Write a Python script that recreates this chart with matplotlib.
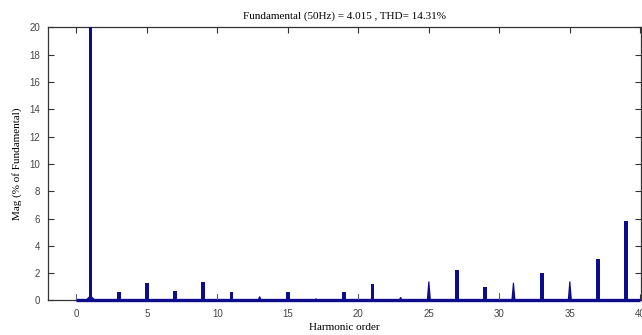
import matplotlib
matplotlib.use("Agg")
import matplotlib.pyplot as plt

# harmonic spectrum (% of fundamental)
orders = [0, 1, 3, 5, 7, 9, 10, 11, 13, 15, 17, 19, 20, 21, 23,
          25, 27, 29, 30, 31, 33, 35, 37, 39]
mags = [0.45, 100.0, 0.65, 1.25, 0.72, 1.33, 0.5, 0.6, 0.3, 0.6, 0.15, 0.63, 0.5, 1.2, 0.25,
        1.4, 2.22, 0.98, 0.52, 1.3, 1.98, 1.4, 3.03, 5.8]
# peak shape: "thick" spike, "thin" line, "cone" tapered spike
shapes = ["thin", "thick", "thick", "thick", "thick", "thick", "thin", "thick", "cone", "thick",
          "cone", "thick", "thin", "thick", "cone",
          "cone", "thick", "thick", "thin", "cone", "thick", "cone", "thick", "thick"]

title = "Fundamental (50Hz) = 4.015 , THD= 14.31%"
xlabel = "Harmonic order"
ylabel = "Mag (% of Fundamental)"
xticks = [0, 5, 10, 15, 20, 25, 30, 35, 40]
yticks = [0, 2, 4, 6, 8, 10, 12, 14, 16, 18, 20]

blue = "#0c0c8c"
serif = ["Liberation Serif", "DejaVu Serif"]

fig = plt.figure(figsize=(6.42, 3.35), dpi=100)
ax = fig.add_axes([0.075, 0.103, 0.9235, 0.815])

# baseline of the spectrum
ax.plot([orders[0], xticks[-1]], [0.05, 0.05], color=blue, lw=2.4, solid_capstyle="butt",
        zorder=3, clip_on=False)

for h, m, s in zip(orders, mags, shapes):
    if s == "thick":
        ax.bar(h, m, width=0.27, color=blue, linewidth=0, zorder=3)
    elif s == "thin":
        ax.bar(h, m, width=0.07, color="#5a5a9a", linewidth=0, zorder=3)
    else:
        ax.fill([h - 0.15, h - 0.04, h + 0.04, h + 0.15], [0, m, m, 0],
                color=blue, linewidth=0, zorder=3)

# small skirt around the fundamental
ax.fill([orders[1] - 0.4, orders[1], orders[1] + 0.4], [0, 0.4, 0],
        color=blue, linewidth=0, zorder=3)

ax.set_xlim(-2, 40.05)
ax.set_ylim(0, 20)
ax.set_xticks(xticks)
ax.set_yticks(yticks)
ax.tick_params(direction="in", length=4, width=0.8, top=True, right=True,
               labelsize=7, labelcolor="#444444", color="#333333", pad=6)
for lab in ax.get_xticklabels() + ax.get_yticklabels():
    lab.set_family(["Liberation Sans", "DejaVu Sans"])
for sp in ax.spines.values():
    sp.set_color("#333333")
    sp.set_linewidth(0.9)

ax.set_title(title, family=serif, fontsize=8, pad=6)
ax.set_xlabel(xlabel, family=serif, fontsize=8, labelpad=3)
ax.set_ylabel(ylabel, family=serif, fontsize=8, labelpad=5)

fig.savefig("out.png", dpi=100)
